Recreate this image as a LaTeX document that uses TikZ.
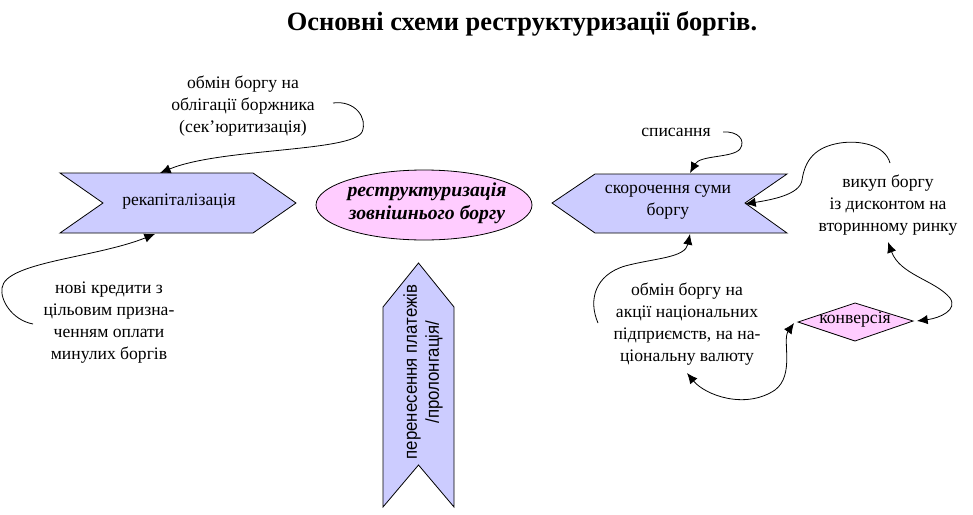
\documentclass[tikz,border=0pt]{standalone}
\usepackage{fontspec}
\setmainfont{Liberation Serif}
\newfontfamily\narrowsans[FakeStretch=0.9]{Liberation Sans}
\usetikzlibrary{arrows.meta,shapes.geometric}
\definecolor{lav}{HTML}{CCCCFF}
\definecolor{pinkf}{HTML}{FFCCFF}
\begin{document}
\begin{tikzpicture}[x=0.75pt,y=-0.75pt,
  shapebox/.style={draw=black, fill=lav, line width=0.6pt},
  lbl/.style={align=center, font=\fontsize{13.2}{16.5}\selectfont, inner sep=0pt},
  conn/.style={-{Latex[length=8pt,width=7pt]}, line width=0.6pt},
  conntwo/.style={{Latex[length=8pt,width=7pt]}-{Latex[length=8pt,width=7pt]}, line width=0.6pt}]
\useasboundingbox (0,0) rectangle (973,514);

% title
\node[font=\fontsize{19.8}{23}\selectfont\bfseries, inner sep=0pt] (title) at (522,24) {Основні схеми реструктуризації боргів.};

% left chevron
\draw[shapebox] (60,173) -- (253,173) -- (296,203) -- (253,233) -- (60,233) -- (103,203) -- cycle;
\node[lbl] (rekap) at (179,202) {рекапіталізація};

% ellipse
\node[draw=black, fill=pinkf, ellipse, line width=0.6pt, minimum width=162pt, minimum height=52.5pt, inner sep=0pt] (restr) at (424,205) {};
\node[lbl, font=\fontsize{14.8}{17.3}\selectfont\bfseries\itshape] (restrt) at (427,203) {реструктуризація\\ зовнішнього боргу};

% vertical chevron
\draw[shapebox] (418.5,263) -- (454,307) -- (454,507) -- (418.5,465) -- (383,507) -- (383,307) -- cycle;
\node[lbl, font=\fontsize{14}{16.5}\narrowsans, rotate=90] (prolong) at (423,372) {перенесення платежів\\/пролонгація/};

% right chevron
\draw[shapebox] (552,203) -- (595,174) -- (787,174) -- (745,203) -- (787,233) -- (595,233) -- cycle;
\node[lbl] (skor) at (668,202) {скорочення суми\\боргу};

% diamond
\draw[draw=black, fill=pinkf, line width=0.6pt] (798,322) -- (855,303) -- (913,321) -- (855,341) -- cycle;
\node[lbl] (konv) at (855,320) {конверсія};

% texts
\node[lbl] (t1) at (243,106) {обмін боргу на\\облігації боржника\\(сек’юритизація)};
\node[lbl] (t2) at (109,323) {нові кредити з\\цільовим призна-\\ченням оплати\\минулих боргів};
\node[lbl] (t3) at (676,132) {списання};
\node[lbl] (t4) at (888,205) {викуп боргу\\із дисконтом на\\вторинному ринку};
\node[lbl] (t5) at (687,324) {обмін боргу на\\акції національних\\підприємств, на на-\\ціональну валюту};

% connector endpoints
\coordinate (a1) at (333,103);
\coordinate (b1) at (160,173);
\coordinate (a2) at (33,324);
\coordinate (b2) at (155,234);
\coordinate (a3) at (723,132);
\coordinate (b3) at (690,173);
\coordinate (a4) at (890,163);
\coordinate (b4) at (745,204);
\coordinate (a5) at (598,323);
\coordinate (b5) at (690,234);
\coordinate (a6) at (917,321);
\coordinate (b6) at (888,242);
\coordinate (a7) at (687,373);
\coordinate (b7) at (794,323);

\draw[conn] (a1) .. controls (355,100) and (368,118) .. (362,132) .. controls (352,152) and (220,148) .. (b1);
\draw[conn] (a2) .. controls (12,320) and (0,300) .. (2,288) .. controls (5,262) and (95,258) .. (b2);
\draw[conn] (a3) .. controls (738,131) and (746,140) .. (740,149) .. controls (733,158) and (700,155) .. (b3);
\draw[conn] (a4) .. controls (885,145) and (860,140) .. (840,143) .. controls (815,147) and (805,160) .. (802,180) .. controls (800,195) and (770,200) .. (b4);
\draw[conn] (a5) .. controls (588,300) and (595,275) .. (625,266) .. controls (655,258) and (685,258) .. (b5);
\draw[conntwo] (a6) .. controls (940,318) and (958,310) .. (950,298) .. controls (935,280) and (900,275) .. (b6);
\draw[conntwo] (a7) .. controls (705,395) and (745,410) .. (775,390) .. controls (795,375) and (782,340) .. (b7);
\end{tikzpicture}
\end{document}
